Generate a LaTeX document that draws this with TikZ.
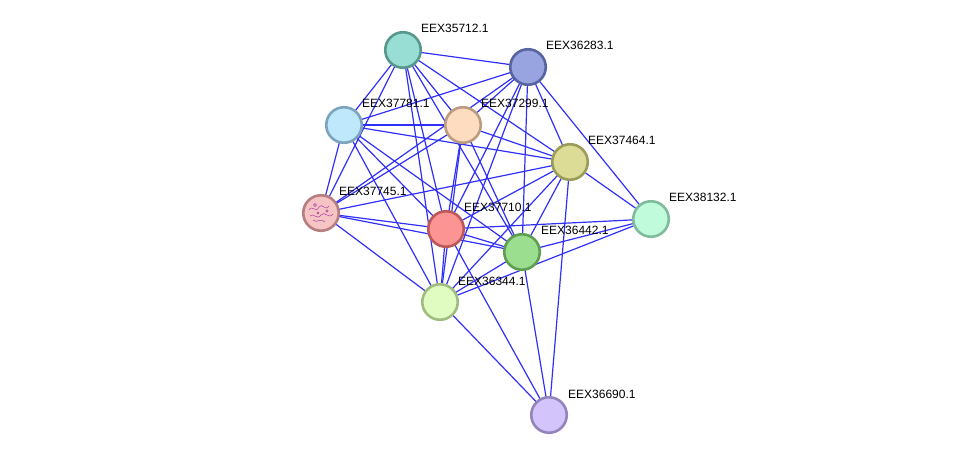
\documentclass[tikz,border=0pt]{standalone}
\usepackage{fontspec}
\setmainfont{Liberation Sans}
\usetikzlibrary{backgrounds}
\definecolor{edgeblue}{RGB}{48,48,250}
\definecolor{fA}{RGB}{152,222,212}\definecolor{bA}{RGB}{88,152,140}
\definecolor{fB}{RGB}{152,164,224}\definecolor{bB}{RGB}{88,100,160}
\definecolor{fC}{RGB}{192,232,252}\definecolor{bC}{RGB}{124,164,188}
\definecolor{fD}{RGB}{253,220,192}\definecolor{bD}{RGB}{188,156,128}
\definecolor{fE}{RGB}{220,220,150}\definecolor{bE}{RGB}{156,156,90}
\definecolor{fF}{RGB}{246,196,196}\definecolor{bF}{RGB}{182,126,126}
\definecolor{fG}{RGB}{252,148,148}\definecolor{bG}{RGB}{188,88,88}
\definecolor{fH}{RGB}{156,222,144}\definecolor{bH}{RGB}{94,158,80}
\definecolor{fI}{RGB}{192,252,220}\definecolor{bI}{RGB}{128,188,156}
\definecolor{fJ}{RGB}{224,252,192}\definecolor{bJ}{RGB}{160,188,128}
\definecolor{fK}{RGB}{212,196,252}\definecolor{bK}{RGB}{148,132,188}
\definecolor{doodle}{RGB}{170,60,170}
\begin{document}
\begin{tikzpicture}[x=1pt,y=-1pt,
  prot/.style={circle, line width=2.6pt, minimum size=35.5pt, inner sep=0pt},
  lbl/.style={anchor=west, font=\fontsize{12}{13}\selectfont, inner sep=0pt},
  edge/.style={draw=edgeblue, line width=1.2pt}]
\useasboundingbox (0,0) rectangle (976,461);
% nodes
\node[prot, fill=fA, draw=bA] (n35712) at (403,50) {};
\node[prot, fill=fB, draw=bB] (n36283) at (528,67) {};
\node[prot, fill=fC, draw=bC] (n37781) at (344,125) {};
\node[prot, fill=fD, draw=bD] (n37299) at (463,125) {};
\node[prot, fill=fE, draw=bE] (n37464) at (570,162) {};
\node[prot, fill=fF, draw=bF] (n37745) at (321,213) {};
\node[prot, fill=fG, draw=bG] (n37710) at (446,229) {};
\node[prot, fill=fH, draw=bH] (n36442) at (522,252) {};
\node[prot, fill=fI, draw=bI] (n38132) at (651,219) {};
\node[prot, fill=fJ, draw=bJ] (n36344) at (440,302) {};
\node[prot, fill=fK, draw=bK] (n36690) at (549,415) {};
% edges (behind nodes)
\begin{pgfonlayer}{background}
\fill[white] (0,0) rectangle (976,461);
\foreach \a/\b in {
  n35712/n36283, n35712/n37781, n35712/n37745, n35712/n37299, n35712/n37464,
  n35712/n37710, n35712/n36344, n35712/n36442,
  n36283/n37781, n36283/n37299, n36283/n37745, n36283/n37464, n36283/n38132,
  n36283/n36442, n36283/n37710, n36283/n36344,
  n37781/n37299, n37781/n37464, n37781/n37745, n37781/n37710, n37781/n36442, n37781/n36344,
  n37299/n37745, n37299/n37464, n37299/n37710, n37299/n36344, n37299/n36442,
  n37464/n37745, n37464/n37710, n37464/n36442, n37464/n36344, n37464/n38132, n37464/n36690,
  n37745/n37710, n37745/n36442, n37745/n36344,
  n37710/n36442, n37710/n38132, n37710/n36344, n37710/n36690,
  n36442/n38132, n36442/n36344, n36442/n36690,
  n36344/n38132, n36344/n36690}
  {\draw[edge] (\a.center) -- (\b.center);}
\end{pgfonlayer}
% structure doodle inside EEX37745.1
\begin{scope}[doodle, line width=0.5pt]
  \draw (309,210) .. controls (312,204) and (316,214) .. (319,207) .. controls (322,202) and (325,212) .. (329,206);
  \draw (310,216) .. controls (314,212) and (317,221) .. (321,215) .. controls (325,210) and (328,220) .. (333,214);
  \draw (313,220) .. controls (317,224) and (321,217) .. (325,222);
  \draw (315,205) circle (1.5pt);
  \draw (327,211) circle (1.2pt);
  \draw (318,213) circle (1pt);
\end{scope}
% labels
\node[lbl] (l35712) at (421,28) {EEX35712.1};
\node[lbl] (l36283) at (546,45) {EEX36283.1};
\node[lbl] (l37781) at (362,103) {EEX37781.1};
\node[lbl] (l37299) at (481,103) {EEX37299.1};
\node[lbl] (l37464) at (588,140) {EEX37464.1};
\node[lbl] (l37745) at (339,191) {EEX37745.1};
\node[lbl] (l37710) at (464,207) {EEX37710.1};
\node[lbl] (l36442) at (541,230) {EEX36442.1};
\node[lbl] (l38132) at (669,197) {EEX38132.1};
\node[lbl] (l36344) at (458,281) {EEX36344.1};
\node[lbl] (l36690) at (568,394) {EEX36690.1};
\end{tikzpicture}
\end{document}
